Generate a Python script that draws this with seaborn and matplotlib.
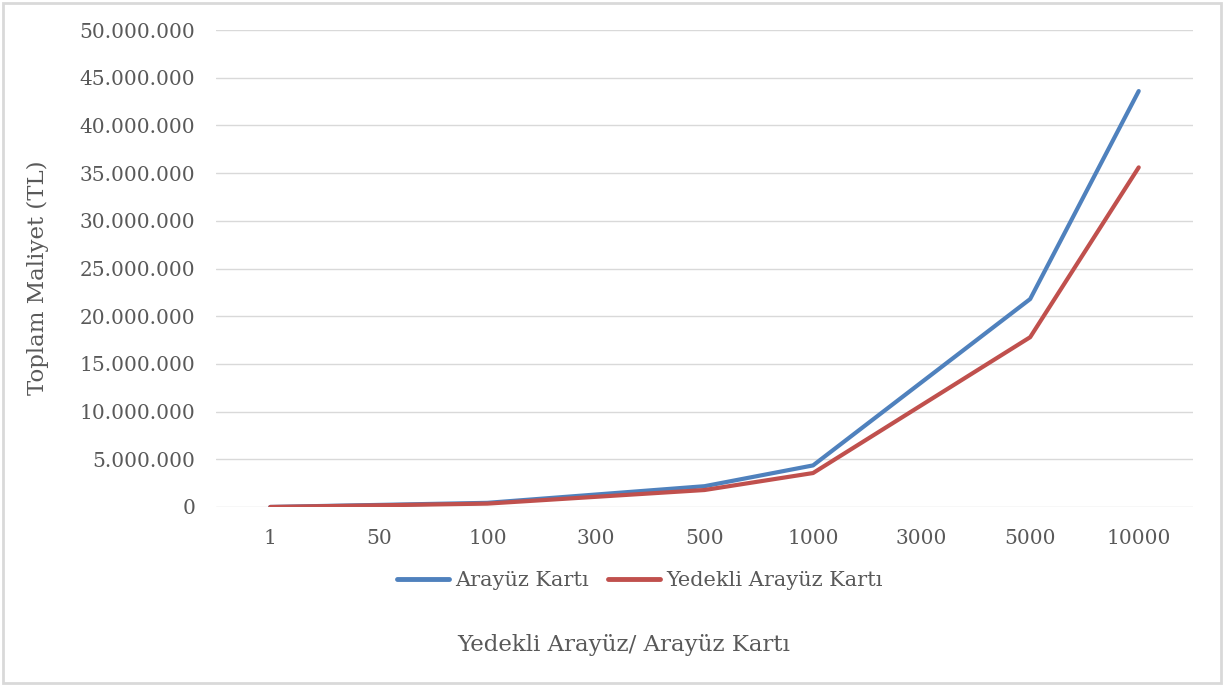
import matplotlib
matplotlib.use("Agg")
import matplotlib.pyplot as plt
import matplotlib.ticker as mticker
from matplotlib.patches import Rectangle
import seaborn as sns
import pandas as pd

# Number of cards (category axis)
categories = ["1", "50", "100", "300", "500", "1000", "3000", "5000", "10000"]

# Total cost in TL
arayuz_karti = [4360, 218000, 436000, 1308000, 2180000, 4360000, 13080000, 21800000, 43600000]
yedekli_arayuz_karti = [3560, 178000, 356000, 1068000, 1780000, 3560000, 10680000, 17800000, 35600000]

series_names = ["Arayüz Kartı", "Yedekli Arayüz Kartı"]
y_ticks = list(range(0, 50_000_001, 5_000_000))

df = pd.DataFrame({
    "adet": categories * 2,
    "maliyet": arayuz_karti + yedekli_arayuz_karti,
    "seri": [series_names[0]] * len(categories) + [series_names[1]] * len(categories),
})

sns.set_theme(style="white")
plt.rcParams["font.family"] = ["DejaVu Serif"]

text_color = "#595959"
grid_color = "#d9d9d9"
palette = {series_names[0]: "#4f81bd", series_names[1]: "#c0504d"}

fig = plt.figure(figsize=(12.26, 6.86), dpi=100)
ax = fig.add_axes([216 / 1226, 1 - 507 / 686, (1193 - 216) / 1226, (507 - 30) / 686])

sns.lineplot(data=df, x="adet", y="maliyet", hue="seri", palette=palette,
             sort=False, linewidth=3.0, ax=ax, legend=False, zorder=3)
for line in ax.get_lines():
    line.set_solid_capstyle("round")
    line.set_solid_joinstyle("round")

ax.set_xlim(-0.5, len(categories) - 0.5)
ax.set_ylim(0, 50_000_000)
ax.set_yticks(y_ticks)
ax.yaxis.set_major_formatter(mticker.FuncFormatter(lambda v, p: f"{int(v):,}".replace(",", ".")))
ax.grid(axis="y", color=grid_color, linewidth=1.0, zorder=0)
ax.grid(axis="x", visible=False)
for s in ax.spines.values():
    s.set_visible(False)
ax.tick_params(axis="both", length=0, labelsize=14.5, colors=text_color)
ax.tick_params(axis="y", pad=15)
ax.tick_params(axis="x", pad=16)
ax.set_xlabel("")
ax.set_ylabel("")

fig.text(38 / 1226, 1 - 278 / 686, "Toplam Maliyet (TL)", rotation=90, ha="center", va="center",
         fontsize=16.5, color=text_color)

handles = [plt.Line2D([], [], color=palette[n], linewidth=3.5, solid_capstyle="round") for n in series_names]
fig.legend(handles, series_names, loc="center", bbox_to_anchor=(640 / 1226, 1 - 581 / 686),
           ncol=2, frameon=False, fontsize=15, labelcolor=text_color,
           handlelength=2.5, handletextpad=0.3, columnspacing=0.9)

fig.text(624 / 1226, 1 - 645 / 686, "Yedekli Arayüz/ Arayüz Kartı", ha="center", va="center",
         fontsize=16.5, color=text_color)

fig.patches.append(Rectangle((3 / 1226, 3 / 686), 1 - 8 / 1226, 1 - 6 / 686, transform=fig.transFigure,
                             fill=False, edgecolor=grid_color, linewidth=2))

fig.savefig("out.png", dpi=100, facecolor="white")
